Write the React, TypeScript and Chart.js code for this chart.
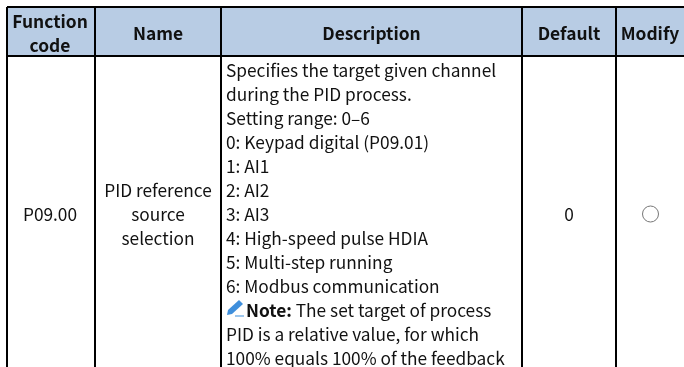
import React, { useEffect, useRef } from "react";
import { Chart, registerables } from "chart.js";

Chart.register(...registerables);

const columnEdges = [7, 95, 221, 522, 616];
const rowEdges = [7, 56];
const headerLabels = [["Function", "code"], ["Name"], ["Description"], ["Default"], ["Modify"]];
const headerCenters = [50, 158, 371.5, 569, 650];
const codeText = ["P09.00"];
const nameLines = ["PID reference", "source", "selection"];
const defaultText = ["0"];
const descriptionLines = [
  "Specifies the target given channel",
  "during the PID process.",
  "Setting range: 0–6",
  "0: Keypad digital (P09.01)",
  "1: AI1",
  "2: AI2",
  "3: AI3",
  "4: High-speed pulse HDIA",
  "5: Multi-step running",
  "6: Modbus communication",
  "",
  "PID is a relative value, for which",
  "100% equals 100% of the feedback",
];
const noteBold = "Note:";
const noteRest = " The set target of process";
const modifyMark = [{ x: 650.5, y: 214 }];

const FONT = '"Noto Sans CJK SC", "Noto Sans", sans-serif';
const BODY = 17.3;
const HEAD = 17.4;

const tablePlugin = {
  id: "tableText",
  beforeDraw(chart: any) {
    const { ctx, scales } = chart;
    const X = (v: number) => scales.x.getPixelForValue(v);
    const Y = (v: number) => scales.y.getPixelForValue(v);
    ctx.save();
    ctx.fillStyle = "#fff";
    ctx.fillRect(0, 0, chart.width, chart.height);
    ctx.fillStyle = "#b8cce4";
    ctx.fillRect(X(7), Y(7), X(684) - X(7), Y(56) - Y(7));
    ctx.restore();
  },
  afterDraw(chart: any) {
    const { ctx, scales } = chart;
    const X = (v: number) => scales.x.getPixelForValue(v);
    const Y = (v: number) => scales.y.getPixelForValue(v);
    ctx.save();
    ctx.textBaseline = "middle";
    ctx.fillStyle = "#111";
    ctx.textAlign = "center";
    ctx.font = `bold ${HEAD}px ${FONT}`;
    headerLabels.forEach((lines, i) => {
      const start = lines.length === 2 ? 21 : 33;
      lines.forEach((l, k) => ctx.fillText(l, X(headerCenters[i]), Y(start + k * 24)));
    });
    ctx.font = `${BODY}px ${FONT}`;
    ctx.fillText(codeText[0], X(50), Y(214));
    nameLines.forEach((l, k) => ctx.fillText(l, X(158), Y(190 + k * 24)));
    ctx.fillText(defaultText[0], X(569), Y(214));
    ctx.textAlign = "left";
    descriptionLines.forEach((l, k) => ctx.fillText(l, X(226), Y(70 + k * 24)));
    // note line with pencil icon
    const ny = Y(310);
    ctx.font = `bold ${BODY}px ${FONT}`;
    ctx.fillText(noteBold, X(246), ny);
    const w = ctx.measureText(noteBold).width;
    ctx.font = `${BODY}px ${FONT}`;
    ctx.fillText(noteRest, X(246) + w, ny);
    // pencil
    const px = X(227), py = Y(315);
    ctx.fillStyle = "#3f8fdc";
    ctx.beginPath();
    ctx.moveTo(px, py);
    ctx.lineTo(px + 1, py - 5);
    ctx.lineTo(px + 12, py - 15);
    ctx.lineTo(px + 16, py - 11);
    ctx.lineTo(px + 5, py - 1);
    ctx.closePath();
    ctx.fill();
    ctx.fillRect(px + 8, py + 0.5, 9, 1);
    ctx.restore();
  },
};

export default function App() {
  const ref = useRef<HTMLCanvasElement>(null);
  useEffect(() => {
    document.body.style.margin = "0";
    const chart = new Chart(ref.current!, {
      type: "scatter",
      data: {
        datasets: [
          {
            data: modifyMark,
            pointStyle: "circle",
            pointRadius: 8,
            pointBorderWidth: 1,
            pointBackgroundColor: "#fff",
            pointBorderColor: "#777",
          },
        ],
      },
      options: {
        animation: false,
        responsive: false,
        layout: { padding: { left: 7, top: 7, right: 0, bottom: 0 }, autoPadding: false },
        plugins: { legend: { display: false }, tooltip: { enabled: false } },
        scales: {
          x: {
            type: "linear",
            min: 7,
            max: 684,
            display: true,
            border: { display: false },
            ticks: { display: false },
            afterBuildTicks: (s: any) => {
              s.ticks = columnEdges.map((value) => ({ value }));
            },
            afterFit: (s: any) => { s.height = 0; },
            grid: { color: "#000", lineWidth: 2, drawTicks: false },
          },
          y: {
            type: "linear",
            reverse: true,
            min: 7,
            max: 367,
            display: true,
            border: { display: false },
            ticks: { display: false },
            afterBuildTicks: (s: any) => {
              s.ticks = rowEdges.map((value) => ({ value }));
            },
            afterFit: (s: any) => { s.width = 0; },
            grid: { color: "#000", lineWidth: 2, drawTicks: false },
          },
        },
      },
      plugins: [tablePlugin],
    } as any);
    return () => chart.destroy();
  }, []);
  return <canvas ref={ref} width={684} height={367} style={{ display: "block" }} />;
}
